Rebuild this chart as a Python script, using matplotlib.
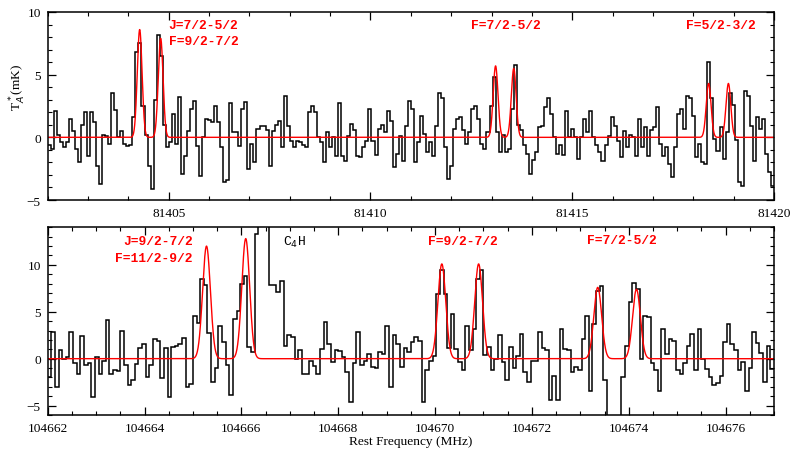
"""Two-panel spectrum plot: hyperfine components with Gaussian fits."""

import numpy as np
import matplotlib
matplotlib.use("Agg")
import matplotlib.pyplot as plt
from matplotlib.ticker import MultipleLocator, FormatStrFormatter

# ── Data ──────────────────────────────────────────────────────
CHAN = 0.075  # MHz per channel

top_start = 81402.0
top_tmb = [
    -0.6, -0.9, 2.1, 0.2, -0.4, -0.8, -0.4, 1.5, 0.5, -0.9,
    -2.0, 1.0, 2.0, -1.5, 2.0, 1.2, -2.3, -3.7, 0.2, 0.1,
    -0.5, 3.5, 2.2, 0.0, 0.5, -0.5, -0.7, -0.6, 1.6, 6.8,
    7.5, 2.5, 0.2, -2.3, -4.1, 3.0, 8.2, 6.5, 1.0, -0.8,
    -0.4, 1.9, -0.5, 3.2, -2.9, -1.5, 0.5, 2.3, 2.9, -0.7,
    -3.1, 0.0, 1.5, 1.4, 1.2, 2.5, 1.2, -0.8, -3.6, -3.4,
    2.7, 0.4, 0.4, -0.7, 2.3, 2.8, -2.5, -0.5, -2.0, 0.7,
    0.9, 0.9, 0.6, -2.3, 0.5, 1.0, 1.3, -0.8, 3.3, 0.9,
    -0.3, -0.8, -0.3, -0.4, -0.6, -0.8, 2.0, 2.5, 2.0, 0.0,
    -0.4, -2.0, 0.4, -0.8, 0.0, -1.5, 2.7, -1.5, -1.9, 0.1,
    1.1, 0.6, -1.5, -1.6, -0.8, -0.3, 2.3, -0.3, -1.4, 0.7,
    1.0, 0.4, 2.1, 1.3, -2.4, -1.3, 0.1, -1.9, 0.9, 2.9,
    2.3, -2.0, -0.4, 1.7, 0.3, -1.2, -0.4, -1.5, 0.9, 3.5,
    3.1, -0.8, -3.3, -2.3, 0.7, 1.5, 1.6, 0.6, -0.5, 0.4,
    2.3, 2.5, 1.5, -0.5, -0.9, 0.4, 2.5, 4.8, 0.4, -1.2,
    0.2, -1.2, -0.9, 2.3, 5.8, 1.0, 0.6, -0.6, -1.3, -2.9,
    -1.8, -1.2, 0.8, 0.9, 2.4, 3.1, 1.9, 0.0, -1.3, -0.6,
    -1.4, 2.1, 0.0, 0.7, 0.0, -1.7, 0.0, 1.5, 0.4, 2.1,
    0.0, -0.6, -1.2, -1.9, -0.6, 0.1, 1.6, 0.9, -0.3, -1.6,
    0.5, -0.8, 0.2, 0.0, -1.5, 1.5, -0.8, 0.8, -1.5, 0.6,
    0.8, 2.4, -0.5, -1.5, -0.8, -2.1, -3.2, -0.8, 1.9, 2.3,
    0.7, 3.3, 3.1, 1.7, -1.6, -0.5, -2.0, -2.1, 6.0, 3.1,
    -0.1, -1.1, 0.8, -1.7, 0.4, 3.5, 2.6, -0.2, -3.6, -3.9,
    3.7, 3.3, 0.9, -1.9, 1.6, 0.7, 1.5, -1.3, -2.8, -3.9,
]
top_centers = [81404.28, 81404.80, 81413.10, 81413.55, 81418.38, 81418.87]
top_amps = [8.6, 7.9, 5.7, 5.5, 4.3, 4.3]
top_fwhm = 0.14

bot_start = 104662.0
bot_tmb = [
    -1.9, 2.8, -3.0, 0.9, 0.0, 0.2, 2.8, -0.5, -1.6, 2.4,
    -0.7, -0.5, -4.1, 0.2, -1.6, -0.2, 4.1, -1.6, -1.2, -1.3,
    3.0, -0.7, -2.8, -2.3, -0.6, 1.1, 1.6, -1.9, -0.7, 2.1,
    1.9, -2.1, 1.1, -4.1, 1.2, 1.4, 1.6, 2.2, -3.0, -2.7,
    4.6, 3.8, 8.5, 7.9, 2.7, -2.5, -1.0, 3.5, 1.8, -0.7,
    -3.9, 4.2, 5.1, 8.0, 8.8, 1.3, 0.7, 13.3, 24.0, 26.0,
    18.0, 7.9, 7.9, 7.1, 8.3, 1.4, 2.5, 2.3, 0.0, 0.9,
    -1.6, -1.6, -0.2, -0.8, -1.6, 1.0, 3.9, 1.6, -0.4, 0.9,
    0.8, 0.2, -1.4, -4.6, -0.5, 2.8, -0.7, -0.2, 0.5, -0.9,
    -1.0, 0.7, 0.5, 3.5, -3.0, 2.5, 1.6, -0.9, 1.1, 0.7,
    1.8, 2.3, 1.9, -4.6, -1.2, -0.2, 0.3, 6.9, 9.5, 6.9,
    1.1, 4.8, 1.0, -0.4, -1.2, 3.5, 0.9, 3.2, 8.5, 9.5,
    0.4, 1.2, -1.2, 0.0, 2.5, -0.4, -2.3, 1.2, -1.0, 0.3,
    2.6, -1.4, -2.5, -0.2, -0.2, 2.8, 1.1, 0.9, -4.4, -1.8,
    -4.4, 3.2, 1.0, 0.9, -1.4, -0.9, -1.2, 2.1, 4.6, -3.4,
    3.7, 7.2, 7.7, -2.3, -8.0, -9.0, -9.0, -8.0, -2.0, 1.4,
    6.0, 8.1, 7.4, 0.0, 4.6, 4.4, -0.5, -1.2, -3.4, 3.2,
    0.5, 2.1, 1.9, -1.2, -1.6, -0.5, 1.4, 2.6, -1.2, 3.2,
    0.0, -1.1, -1.9, -2.8, -2.6, -1.8, 1.8, 3.7, 1.6, 0.9,
    -1.2, -0.4, -3.4, -1.0, 2.8, 1.7, 0.6, -2.5, 1.4, -1.1,
]
bot_centers = [104665.28, 104666.09, 104670.14, 104670.90, 104673.36, 104674.16]
bot_amps = [12.0, 12.8, 10.1, 10.1, 7.6, 7.4]
bot_fwhm = 0.19

top_labels = [("J=7/2-5/2", 81405.0, 9.0), ("F=9/2-7/2", 81405.0, 7.66),
              ("F=7/2-5/2", 81412.5, 9.0), ("F=5/2-3/2", 81417.82, 9.0)]
bot_labels = [("F=9/2-7/2", 104669.85, 12.53), ("F=7/2-5/2", 104673.13, 12.6)]


def gauss_model(x, centers, amps, fwhm):
    sig = fwhm / 2.3548
    y = np.zeros_like(x)
    for c, a in zip(centers, amps):
        y += a * np.exp(-0.5 * ((x - c) / sig) ** 2)
    return y


plt.rcParams["font.family"] = "Liberation Serif"
plt.rcParams["font.size"] = 9.6
plt.rcParams["axes.linewidth"] = 1.1

fig = plt.figure(figsize=(8.0, 4.56), dpi=100)
ax1 = fig.add_axes([0.0596, 0.5592, 0.9079, 0.4123])
ax2 = fig.add_axes([0.0596, 0.0877, 0.9079, 0.4116])

panels = [
    (ax1, top_start, top_tmb, top_centers, top_amps, top_fwhm, (-5, 10), 5, 1),
    (ax2, bot_start, bot_tmb, bot_centers, bot_amps, bot_fwhm, (-6, 14), 2, 0.5),
]

for ax, start, tmb, cen, amp, fw, ylim, xmaj, xmin in panels:
    vals = np.array(tmb)
    edges = start + np.arange(len(vals) + 1) * CHAN
    ax.stairs(vals, edges, baseline=None, color="black", lw=1.1)
    xf = np.linspace(edges[0], edges[-1], 4000)
    ax.plot(xf, gauss_model(xf, cen, amp, fw), color="#ff0000", lw=1.0)
    ax.set_xlim(edges[0], edges[-1])
    ax.set_ylim(*ylim)
    ax.xaxis.set_major_locator(MultipleLocator(xmaj))
    ax.xaxis.set_minor_locator(MultipleLocator(xmin))
    ax.yaxis.set_major_locator(MultipleLocator(5))
    ax.yaxis.set_minor_locator(MultipleLocator(1))
    ax.xaxis.set_major_formatter(FormatStrFormatter("%d"))
    ax.tick_params(which="both", direction="in", top=True, right=True)
    ax.tick_params(which="major", length=5.5, width=0.9, pad=5)
    ax.tick_params(which="minor", length=3, width=0.8)

# ── Labels ────────────────────────────────────────────────────
lab_font = dict(family="Liberation Mono", fontsize=9.4, fontweight="bold",
                color="#ff0000", va="center")
for txt, x, y in top_labels:
    ax1.text(x, y, txt, ha="left", **lab_font)
ax2.text(104665.0, 12.53, "J=9/2-7/2", ha="right", **lab_font)
ax2.text(104665.0, 10.77, "F=11/2-9/2", ha="right", **lab_font)
for txt, x, y in bot_labels:
    ax2.text(x, y, txt, ha="left", **lab_font)
ax2.text(104666.86, 12.53, "C$_4$H", ha="left", va="center",
         family="Liberation Mono", fontsize=9.4, color="black")

fig.text(0.0225, 0.809, "T$_A^*$(mK)", rotation=90, ha="center", va="center")
ax2.set_xlabel("Rest Frequency (MHz)", labelpad=1)

fig.savefig("out.png", dpi=100)
